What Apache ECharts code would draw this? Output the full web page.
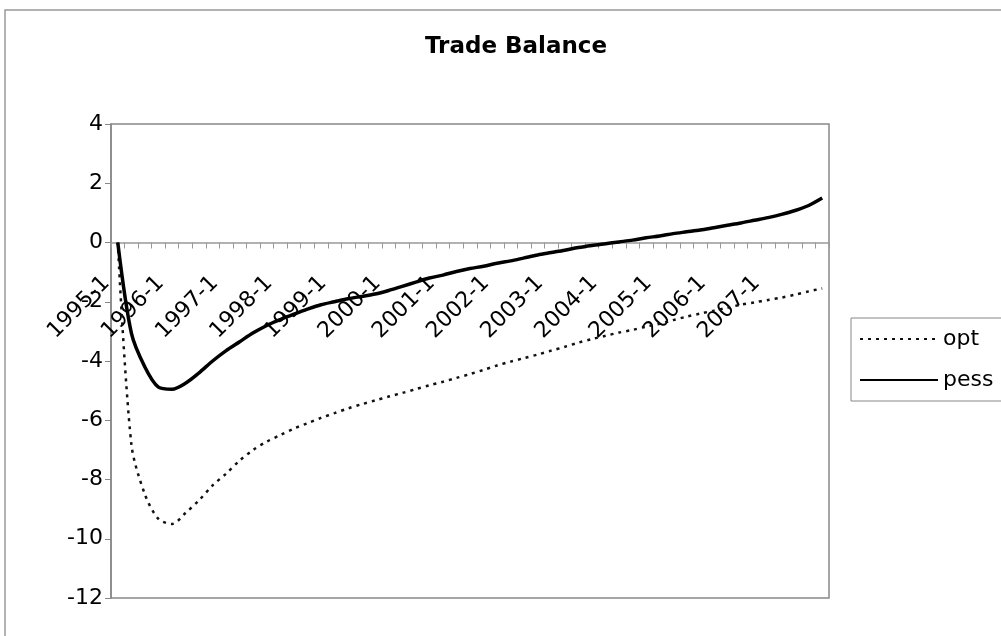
<!DOCTYPE html>
<html>
<head>
<meta charset="utf-8">
<script src="https://cdn.jsdelivr.net/npm/echarts@6/dist/echarts.min.js"></script>
<style>
html,body{margin:0;padding:0;background:#fff;}
#chart{width:1001px;height:636px;}
</style>
</head>
<body>
<div id="chart"></div>
<script>
// Quarterly categories 1995-1 .. 2008-1
const categories = [];
for (let y = 1995; y <= 2008; y++) {
  for (let q = 1; q <= 4; q++) {
    if (y === 2008 && q > 1) break;
    categories.push(y + '-' + q);
  }
}
const optValues = [0, -6.8, -8.5, -9.33, -9.5, -9.13, -8.7, -8.2, -7.8, -7.36,
  -7.0, -6.72, -6.5, -6.28, -6.1, -5.92, -5.76, -5.6, -5.46, -5.33,
  -5.2, -5.08, -4.95, -4.82, -4.7, -4.57, -4.44, -4.3, -4.15, -4.02,
  -3.9, -3.78, -3.65, -3.52, -3.38, -3.26, -3.15, -3.04, -2.95, -2.84,
  -2.74, -2.62, -2.5, -2.4, -2.3, -2.2, -2.1, -2.02, -1.94, -1.86,
  -1.76, -1.65, -1.55];
const pessValues = [0, -3.05, -4.2, -4.88, -4.95, -4.75, -4.4, -4.0, -3.65, -3.35,
  -3.05, -2.8, -2.6, -2.42, -2.25, -2.1, -2.0, -1.9, -1.82, -1.74,
  -1.62, -1.48, -1.34, -1.2, -1.1, -0.98, -0.88, -0.8, -0.7, -0.62,
  -0.52, -0.42, -0.34, -0.26, -0.17, -0.1, -0.04, 0.02, 0.08, 0.16,
  0.22, 0.3, 0.36, 0.42, 0.5, 0.58, 0.66, 0.75, 0.84, 0.95,
  1.08, 1.25, 1.5];
const yTicks = {min: -12, max: 4, interval: 2};

const gridTop = 124, gridBottomPx = 598;
const zeroOffset = -(gridBottomPx - (gridTop + (gridBottomPx - gridTop) * yTicks.max / (yTicks.max - yTicks.min)));

const chart = echarts.init(document.getElementById('chart'));
const font = '"DejaVu Sans", sans-serif';
chart.setOption({
  backgroundColor: '#fff',
  animation: false,
  title: {
    text: 'Trade Balance',
    left: 511,
    textAlign: 'center',
    top: 31,
    textStyle: {fontFamily: font, fontSize: 23, fontWeight: 'bold', color: '#000'}
  },
  graphic: [{
    type: 'rect',
    shape: {x: 5, y: 10, width: 1100, height: 700},
    style: {fill: 'none', stroke: '#999', lineWidth: 1.5},
    silent: true
  }],
  legend: {
    orient: 'vertical',
    left: 851,
    top: 318,
    padding: [10, 80, 10, 8],
    itemWidth: 78,
    itemHeight: 14,
    itemGap: 19,
    borderColor: '#888',
    borderWidth: 1,
    itemStyle: {opacity: 0},
    textStyle: {fontFamily: font, fontSize: 22, color: '#000', padding: [0, 0, 0, 0]},
    data: ['opt', 'pess']
  },
  grid: {left: 111, right: 172, top: gridTop, bottom: 636 - gridBottomPx, show: true, borderColor: '#888', borderWidth: 1.5, containLabel: false, outerBoundsMode: 'none'},
  xAxis: {
    type: 'category',
    data: categories,
    boundaryGap: true,
    offset: zeroOffset,
    axisLine: {onZero: false, lineStyle: {color: '#999', width: 1.5}},
    axisTick: {show: true, interval: 0, length: 6, lineStyle: {color: '#999'}},
    axisLabel: {
      rotate: 45,
      margin: 26,
      padding: [0, 16, 0, 0],
      interval: (i) => i % 4 === 0 && i <= 48,
      fontFamily: font, fontSize: 22, color: '#000'
    },
    splitLine: {show: false}
  },
  yAxis: {
    type: 'value',
    min: yTicks.min, max: yTicks.max, interval: yTicks.interval,
    axisLine: {show: true, onZero: false, lineStyle: {color: '#888', width: 1.5}},
    axisTick: {show: true, length: 6, lineStyle: {color: '#888'}},
    axisLabel: {margin: 8, fontFamily: font, fontSize: 22, color: '#000'},
    splitLine: {show: false}
  },
  series: [
    {
      name: 'opt', type: 'line', data: optValues, smooth: 0.3, symbol: 'none',
      lineStyle: {color: '#111', width: 2.5, type: [3, 5]},
      itemStyle: {color: '#111'}
    },
    {
      name: 'pess', type: 'line', data: pessValues, smooth: 0.3, symbol: 'none',
      lineStyle: {color: '#000', width: 3.5},
      itemStyle: {color: '#000'}
    }
  ]
});
</script>
</body>
</html>
